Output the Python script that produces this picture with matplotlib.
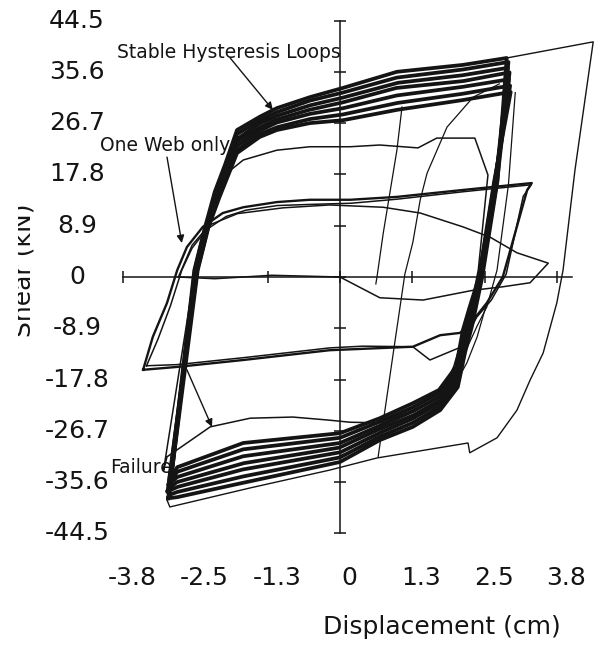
import matplotlib
matplotlib.use("Agg")
import matplotlib.pyplot as plt
from matplotlib import transforms

# ---------------- data (cm, kN) ----------------
x_tick_values = [-3.81, -2.54, -1.27, 0.0, 1.27, 2.54, 3.81]
x_tick_labels = ["-3.8", "-2.5", "-1.3", "0", "1.3", "2.5", "3.8"]
y_tick_values = [44.5, 35.6, 26.7, 17.8, 8.9, 0.0, -8.9, -17.8, -26.7, -35.6, -44.5]
y_tick_labels = ["44.5", "35.6", "26.7", "17.8", "8.9", "0", "-8.9", "-17.8", "-26.7", "-35.6", "-44.5"]

# stable hysteresis loops (thick band)
stable_1_x = [-3.02, -2.56, -2.37, -2.20, -2.02, -1.81, -1.41, -1.11, -0.53, 0.05, 1.00, 2.16, 2.93, 2.77, 2.50, 2.32, 2.20, 2.07, 1.76, 1.28, 0.70, 0.00, -1.70, -2.86, -3.02]
stable_1_y = [-38.4, 1.2, 8.7, 14.8, 19.5, 25.5, 27.8, 29.3, 31.2, 32.8, 35.6, 36.8, 38.0, 16.8, 0.0, -8.5, -13.0, -19.1, -23.1, -26.0, -28.3, -32.1, -35.7, -38.2, -38.4]
stable_2_x = [-3.00, -2.54, -2.35, -2.18, -2.00, -1.81, -1.41, -1.11, -0.53, 0.05, 1.00, 2.16, 2.96, 2.75, 2.49, 2.31, 2.19, 2.06, 1.76, 1.28, 0.70, 0.00, -1.70, -2.86, -3.00]
stable_2_y = [-37.8, 1.2, 8.7, 14.6, 19.0, 24.8, 27.2, 28.6, 30.6, 32.0, 34.6, 36.0, 37.3, 16.5, 0.2, -8.0, -12.3, -18.5, -22.5, -25.3, -27.7, -31.3, -34.6, -37.3, -37.8]
stable_3_x = [-3.03, -2.52, -2.33, -2.16, -1.99, -1.80, -1.42, -1.10, -0.52, 0.04, 1.02, 2.15, 2.95, 2.74, 2.47, 2.30, 2.18, 2.06, 1.75, 1.27, 0.71, 0.01, -1.71, -2.85, -3.03]
stable_3_y = [-37.2, 1.0, 8.5, 14.5, 18.8, 24.0, 26.6, 28.0, 29.8, 31.1, 33.7, 35.0, 36.3, 16.9, -0.1, -7.5, -11.6, -17.9, -21.9, -24.6, -27.0, -30.4, -33.4, -36.4, -37.2]
stable_4_x = [-2.99, -2.55, -2.36, -2.17, -1.98, -1.81, -1.40, -1.12, -0.54, 0.05, 0.99, 2.17, 2.98, 2.76, 2.48, 2.29, 2.17, 2.05, 1.77, 1.29, 0.69, -0.01, -1.69, -2.87, -2.99]
stable_4_y = [-36.6, 1.3, 8.8, 14.3, 18.6, 23.5, 26.0, 27.3, 29.0, 30.3, 32.8, 34.0, 35.5, 16.6, 0.1, -7.0, -11.0, -17.3, -21.3, -24.0, -26.4, -29.6, -32.3, -35.6, -36.6]
stable_5_x = [-3.01, -2.51, -2.32, -2.14, -1.97, -1.82, -1.41, -1.11, -0.53, 0.06, 1.00, 2.16, 2.97, 2.73, 2.46, 2.30, 2.18, 2.06, 1.76, 1.28, 0.70, 0.00, -1.70, -2.86, -3.01]
stable_5_y = [-36.0, 1.1, 8.6, 14.2, 18.4, 22.7, 25.4, 26.8, 28.3, 29.3, 31.5, 33.0, 34.3, 16.8, -0.2, -6.5, -10.4, -16.7, -20.7, -23.3, -25.8, -28.8, -31.1, -34.7, -36.0]
stable_6_x = [-2.98, -2.53, -2.34, -2.13, -1.96, -1.81, -1.41, -1.10, -0.53, 0.05, 1.01, 2.16, 2.99, 2.72, 2.45, 2.29, 2.17, 2.05, 1.75, 1.28, 0.70, 0.00, -1.70, -2.86, -2.98]
stable_6_y = [-35.5, 1.2, 8.7, 14.0, 18.2, 22.0, 24.8, 26.0, 27.4, 28.2, 30.2, 31.8, 33.2, 16.7, 0.0, -6.0, -9.8, -16.1, -20.1, -22.6, -25.1, -27.9, -29.9, -33.8, -35.5]
stable_7_x = [-2.97, -2.50, -2.31, -2.12, -1.95, -1.81, -1.41, -1.11, -0.53, 0.05, 1.00, 2.16, 3.00, 2.71, 2.44, 2.27, 2.16, 2.04, 1.74, 1.28, 0.70, 0.00, -1.70, -2.86, -2.97]
stable_7_y = [-35.0, 1.2, 8.7, 13.8, 18.0, 21.5, 24.3, 25.5, 26.7, 27.2, 29.0, 30.7, 32.1, 16.6, -0.1, -5.5, -9.2, -15.6, -19.6, -21.9, -24.5, -27.1, -28.8, -33.0, -35.0]

# failure excursion
failure_x = [2.93, 3.69, 4.45, 4.13, 3.92, 3.81, 3.57, 3.34, 3.11, 2.76, 2.28, 2.25, 0.65, -0.18, -1.58, -2.99, -3.04]
failure_y = [38.0, 39.4, 40.8, 18.6, 1.2, -4.5, -13.2, -17.9, -23.1, -27.9, -30.5, -28.8, -31.4, -33.5, -36.6, -39.9, -38.7]

# one-web loops (+/- 15 kN)
mid_a_x = [-3.46, -3.29, -3.04, -2.86, -2.69, -2.41, -2.06, -1.70, -1.11, -0.53, 0.18, 1.00, 2.16, 3.37, 3.29, 2.86, 2.58, 2.34, 2.11, 1.76, 1.28, -0.18, -1.70, -2.86, -3.46]
mid_a_y = [-16.1, -10.4, -4.5, 1.2, 5.2, 8.7, 11.1, 12.1, 13.0, 13.4, 13.4, 13.9, 15.1, 16.3, 15.1, 0.0, -4.5, -7.5, -9.7, -10.1, -12.1, -12.7, -14.4, -15.6, -16.1]
mid_b_x = [-3.40, -3.20, -2.98, -2.78, -2.60, -2.35, -2.00, -1.65, -1.10, -0.50, 0.20, 1.00, 2.17, 3.36, 3.22, 2.92, 2.66, 2.40, 2.14, 1.58, 1.28, 0.40, -0.18, -1.70, -2.86, -3.40]
mid_b_y = [-15.4, -10.8, -5.0, 1.2, 5.0, 8.2, 10.5, 11.6, 12.4, 12.6, 12.8, 13.5, 14.8, 16.0, 14.0, 0.5, -4.0, -7.0, -12.1, -14.4, -12.1, -12.0, -12.3, -14.0, -15.2, -15.4]

# first small cycle
first_x = [-2.84, -2.60, -2.30, -1.80, -1.00, -0.18, 0.76, 1.41, 2.16, 2.64, 3.11, 3.66, 3.34, 2.86, 2.34, 1.46, 0.70, 0.00, -1.20, -2.20, -2.84]
first_y = [0.0, 5.5, 9.0, 11.0, 12.0, 12.5, 12.1, 11.1, 8.7, 6.9, 4.2, 2.4, -1.0, -1.7, -2.3, -4.0, -3.6, 0.0, 0.3, -0.3, 0.0]

# one-web loop (~ +22 / -25 kN)
web_x = [-3.10, -2.55, -2.30, -1.99, -1.70, -1.11, -0.53, 0.18, 0.70, 1.37, 1.70, 2.37, 2.60, 2.43, 2.28, 2.00, 1.76, 1.28, 0.70, 0.18, -0.23, -0.83, -1.58, -2.28, -3.04, -3.10]
web_y = [-33.5, 1.0, 9.0, 18.0, 20.3, 22.0, 22.6, 22.6, 22.9, 22.4, 24.1, 24.1, 17.7, 1.2, -6.2, -15.5, -20.8, -23.1, -25.3, -25.2, -24.8, -24.3, -24.5, -26.0, -31.2, -33.5]

# thin transition lines
line_a_x = [1.09, 1.00, 0.76, 0.65, 0.63]
line_a_y = [29.5, 22.0, 7.6, 0.0, -1.2]
reload_x = [0.67, 0.79, 0.97, 1.14, 1.28, 1.41, 1.53, 1.88, 2.34, 2.80]
reload_y = [-31.2, -23.1, -10.9, 0.5, 6.0, 13.4, 18.0, 26.0, 31.2, 33.5]
parallel_x = [3.08, 2.96, 2.76, 2.58, 2.41, 2.20]
parallel_y = [32.0, 16.0, 1.2, -5.2, -8.5, -13.0]
knee_x = [2.58, 2.41, 2.23, 2.06, 1.58, 1.00, 0.58, 0.00]
knee_y = [-4.5, -10.4, -14.9, -17.9, -23.6, -26.5, -28.8, -31.0]

# ---------------- figure ----------------
INK = "#141414"
plt.rcParams["font.family"] = ["DejaVu Sans"]
fig = plt.figure(figsize=(5.96, 6.48), dpi=100)
ax = fig.add_axes([0, 0, 1, 1])
ax.set_xlim(-5.975, 4.499)
ax.set_ylim(-64.37, 48.06)

for s in ("top", "right"):
    ax.spines[s].set_visible(False)
ax.spines["left"].set_position(("data", 0))
ax.spines["bottom"].set_position(("data", 0))
ax.spines["left"].set_bounds(-44.5, 44.5)
ax.spines["bottom"].set_bounds(-3.81, 4.08)
for s in ("left", "bottom"):
    ax.spines[s].set_linewidth(1.1)
    ax.spines[s].set_color(INK)
ax.set_xticks(x_tick_values)
ax.set_yticks(y_tick_values)
ax.tick_params(direction="inout", length=8, width=1.1, color=INK,
               labelbottom=False, labelleft=False)

stable = [(stable_1_x, stable_1_y), (stable_2_x, stable_2_y), (stable_3_x, stable_3_y),
          (stable_4_x, stable_4_y), (stable_5_x, stable_5_y), (stable_6_x, stable_6_y),
          (stable_7_x, stable_7_y)]
for xs, ys in stable:
    ax.plot(xs, ys, color=INK, lw=2.7, solid_joinstyle="round", zorder=3)

ax.plot(failure_x, failure_y, color=INK, lw=1.0, zorder=3)
ax.plot(mid_a_x, mid_a_y, color=INK, lw=1.7, zorder=3)
ax.plot(mid_b_x, mid_b_y, color=INK, lw=1.1, zorder=3)
ax.plot(first_x, first_y, color=INK, lw=1.1, zorder=3)
ax.plot(web_x, web_y, color=INK, lw=1.1, zorder=3)
ax.plot(line_a_x, line_a_y, color=INK, lw=0.9, zorder=3)
ax.plot(reload_x, reload_y, color=INK, lw=0.9, zorder=3)
ax.plot(parallel_x, parallel_y, color=INK, lw=0.9, zorder=3)
ax.plot(knee_x, knee_y, color=INK, lw=0.9, zorder=3)

# tick labels
for v, s in zip(y_tick_values, y_tick_labels):
    ax.text(-4.62, v, s, ha="center", va="center", fontsize=18, color=INK)
off = transforms.ScaledTranslation(9 / 100, 0, fig.dpi_scale_trans)
for v, s in zip(x_tick_values, x_tick_labels):
    ax.text(v, -52.2, s, ha="center", va="center", fontsize=18, color=INK,
            transform=ax.transData + off)

fig.text(442 / 596, 1 - 627 / 648, "Displacement (cm)", ha="center", va="center",
         fontsize=18, color=INK)
ylab = fig.text(36 / 596, 1 - 270 / 648, "Shear (kN)", ha="right", va="center",
                rotation=90, fontsize=18, color=INK)
clip = transforms.TransformedBbox(transforms.Bbox([[17.5 / 596, 0], [1, 1]]),
                                  fig.transFigure)
ylab.set_clip_box(clip)
ylab.set_clip_on(True)

# annotations
arrow = dict(arrowstyle="-|>", color=INK, lw=1.0, mutation_scale=11,
             shrinkA=0, shrinkB=0)
ax.annotate("", xy=(-1.18, 29.0), xytext=(-1.93, 38.0), arrowprops=arrow, zorder=4)
ax.text(-3.92, 38.9, "Stable Hysteresis Loops", fontsize=13.5, ha="left",
        va="center", color=INK, zorder=2)
ax.annotate("", xy=(-2.78, 5.9), xytext=(-3.04, 20.8), arrowprops=arrow, zorder=4)
ax.text(-4.22, 22.9, "One Web only", fontsize=13.5, ha="left", va="center",
        color=INK, zorder=2)
ax.annotate("", xy=(-2.25, -26.0), xytext=(-2.69, -16.1), arrowprops=arrow, zorder=4)
ax.text(-4.04, -33.1, "Failure", fontsize=13.5, ha="left", va="center",
        color=INK, zorder=2)

fig.savefig("out.png", dpi=100, facecolor="white")
